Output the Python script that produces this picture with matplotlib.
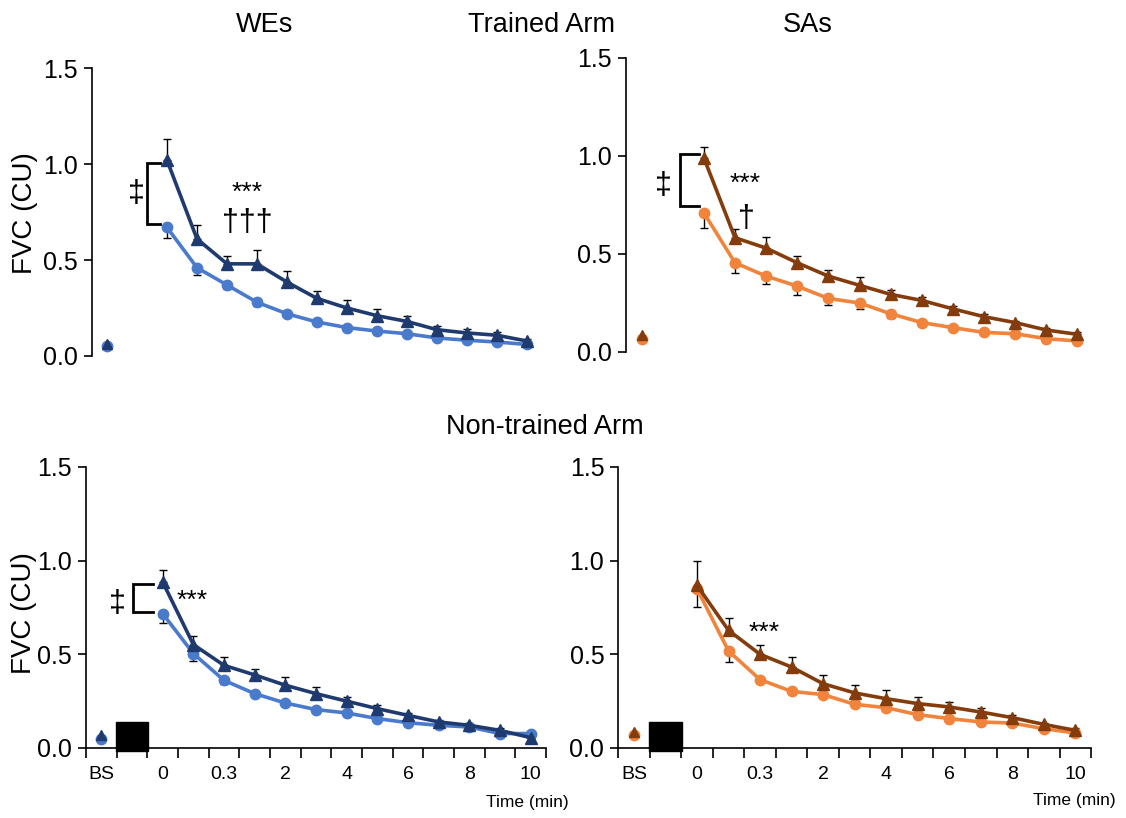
import numpy as np
import matplotlib.pyplot as plt
from matplotlib import font_manager
from matplotlib.patches import Rectangle

names = {f.name for f in font_manager.fontManager.ttflist}
narrow = 'Liberation Sans Narrow' if 'Liberation Sans Narrow' in names else 'Liberation Sans'
plt.rcParams['font.family'] = [narrow, 'DejaVu Sans']

# x categories: BS, (exercise box), then 13 recovery time points
tick_labels = ['BS', '0', '0.3', '2', '4', '6', '8', '10']
y_ticks = [0.0, 0.5, 1.0, 1.5]

# ---- WEs, trained arm ----
we_tr_tri_bs, we_tr_tri_bs_err = 0.065, 0.01
we_tr_tri = [1.02, 0.61, 0.48, 0.48, 0.385, 0.30, 0.25, 0.21, 0.18, 0.137, 0.12, 0.108, 0.078]
we_tr_tri_err = [0.11, 0.07, 0.04, 0.07, 0.06, 0.04, 0.04, 0.035, 0.03, 0.02, 0.02, 0.015, 0.01]
we_tr_cir_bs, we_tr_cir_bs_err = 0.05, 0.01
we_tr_cir = [0.67, 0.46, 0.37, 0.28, 0.22, 0.177, 0.148, 0.13, 0.116, 0.094, 0.082, 0.073, 0.06]
we_tr_cir_err = [0.055, 0.04, 0.02, 0.02, 0.015, 0.01, 0.01, 0.01, 0.01, 0.01, 0.01, 0.01, 0.01]

# ---- SAs, trained arm ----
sa_tr_tri_bs, sa_tr_tri_bs_err = 0.085, 0.01
sa_tr_tri = [0.99, 0.583, 0.53, 0.455, 0.387, 0.34, 0.294, 0.263, 0.22, 0.18, 0.15, 0.112, 0.09]
sa_tr_tri_err = [0.056, 0.047, 0.056, 0.035, 0.031, 0.042, 0.02, 0.02, 0.015, 0.015, 0.01, 0.01, 0.01]
sa_tr_cir_bs, sa_tr_cir_bs_err = 0.065, 0.01
sa_tr_cir = [0.71, 0.455, 0.387, 0.336, 0.273, 0.25, 0.195, 0.15, 0.124, 0.10, 0.093, 0.068, 0.056]
sa_tr_cir_err = [0.076, 0.051, 0.042, 0.046, 0.035, 0.033, 0.02, 0.015, 0.01, 0.01, 0.01, 0.01, 0.01]

# ---- WEs, non-trained arm ----
we_nt_tri_bs, we_nt_tri_bs_err = 0.068, 0.01
we_nt_tri = [0.886, 0.552, 0.441, 0.39, 0.335, 0.29, 0.25, 0.21, 0.174, 0.139, 0.121, 0.094, 0.055]
we_nt_tri_err = [0.062, 0.048, 0.045, 0.034, 0.044, 0.036, 0.02, 0.02, 0.015, 0.01, 0.01, 0.01, 0.01]
we_nt_cir_bs, we_nt_cir_bs_err = 0.05, 0.01
we_nt_cir = [0.717, 0.504, 0.361, 0.29, 0.24, 0.205, 0.187, 0.157, 0.135, 0.121, 0.112, 0.077, 0.077]
we_nt_cir_err = [0.05, 0.04, 0.02, 0.015, 0.01, 0.01, 0.01, 0.01, 0.01, 0.01, 0.01, 0.01, 0.01]

# ---- SAs, non-trained arm ----
sa_nt_tri_bs, sa_nt_tri_bs_err = 0.085, 0.01
sa_nt_tri = [0.868, 0.628, 0.50, 0.432, 0.343, 0.294, 0.263, 0.237, 0.219, 0.192, 0.162, 0.126, 0.094]
sa_nt_tri_err = [0.13, 0.068, 0.052, 0.054, 0.045, 0.04, 0.045, 0.035, 0.027, 0.02, 0.015, 0.01, 0.01]
sa_nt_cir_bs, sa_nt_cir_bs_err = 0.07, 0.01
sa_nt_cir = [0.85, 0.518, 0.365, 0.302, 0.285, 0.233, 0.215, 0.178, 0.157, 0.139, 0.133, 0.103, 0.08]
sa_nt_cir_err = [0.1, 0.058, 0.02, 0.015, 0.01, 0.01, 0.01, 0.01, 0.01, 0.01, 0.01, 0.01, 0.01]

NAVY, LBLUE = '#1f3a6e', '#4a7acb'
BROWN, ORANGE = '#843c0c', '#f0843c'

fig = plt.figure(figsize=(11.26, 8.18), dpi=100)

axes = {
    'tl': fig.add_axes([0.0817, 0.5648, 0.3996, 0.352]),
    'tr': fig.add_axes([0.556, 0.5697, 0.4147, 0.3594]),
    'bl': fig.add_axes([0.0764, 0.0856, 0.4085, 0.3435]),
    'br': fig.add_axes([0.549, 0.0856, 0.420, 0.3435]),
}

panels = {
    'tl': (we_tr_tri_bs, we_tr_tri_bs_err, we_tr_tri, we_tr_tri_err,
           we_tr_cir_bs, we_tr_cir_bs_err, we_tr_cir, we_tr_cir_err, NAVY, LBLUE),
    'tr': (sa_tr_tri_bs, sa_tr_tri_bs_err, sa_tr_tri, sa_tr_tri_err,
           sa_tr_cir_bs, sa_tr_cir_bs_err, sa_tr_cir, sa_tr_cir_err, BROWN, ORANGE),
    'bl': (we_nt_tri_bs, we_nt_tri_bs_err, we_nt_tri, we_nt_tri_err,
           we_nt_cir_bs, we_nt_cir_bs_err, we_nt_cir, we_nt_cir_err, NAVY, LBLUE),
    'br': (sa_nt_tri_bs, sa_nt_tri_bs_err, sa_nt_tri, sa_nt_tri_err,
           sa_nt_cir_bs, sa_nt_cir_bs_err, sa_nt_cir, sa_nt_cir_err, BROWN, ORANGE),
}

pos = np.arange(2, 15)

for key, ax in axes.items():
    tb, tbe, t, te, cb, cbe, c, ce, dark, light = panels[key]
    t, te, c, ce = map(np.asarray, (t, te, c, ce))
    z = np.zeros_like(t)
    # error bars: triangles upward, circles downward
    ax.errorbar(pos, c, yerr=[ce, z], fmt='none', ecolor='black', elinewidth=1,
                capsize=3, capthick=1, zorder=2)
    ax.errorbar(pos, t, yerr=[z, te], fmt='none', ecolor='black', elinewidth=1,
                capsize=3, capthick=1, zorder=2)
    ax.plot(pos, c, color=light, marker='o', ms=7.5, lw=2.6, zorder=3)
    ax.plot([0], [cb], color=light, marker='o', ms=7.5, zorder=3)
    ax.plot(pos, t, color=dark, marker='^', ms=8.5, lw=2.6, zorder=4)
    ax.plot([0], [tb], color=dark, marker='^', ms=7.5, zorder=4)

    ax.set_xlim(-0.5, 14.5)
    ax.set_ylim(0, 1.5)
    ax.set_yticks(y_ticks)
    ax.set_yticklabels([f'{v:.1f}' for v in y_ticks], fontsize=18)
    ax.tick_params(axis='y', direction='out', length=6, width=1.2, pad=4)
    for s in ('top', 'right'):
        ax.spines[s].set_visible(False)
    ax.spines['left'].set_linewidth(1.2)
    ax.spines['bottom'].set_linewidth(1.2)
    if key in ('tl', 'tr'):
        ax.spines['bottom'].set_visible(False)
        ax.set_xticks([])
    else:
        ax.set_xticks(np.arange(-0.5, 15, 1.0))
        ax.set_xticklabels([])
        ax.set_xticks(np.arange(0, 15, 2), minor=True)
        ax.set_xticklabels(tick_labels, minor=True, fontsize=14)
        ax.tick_params(axis='x', which='major', direction='out', length=7, width=1.2)
        ax.tick_params(axis='x', which='minor', length=0, pad=13)
        ax.add_patch(Rectangle((0.47, -0.015), 1.06, 0.155, color='black',
                               clip_on=False, zorder=5))


def bracket(ax, x0, x1, ytop, ybot):
    ax.plot([x1, x0, x0, x1], [ytop, ytop, ybot, ybot], color='black', lw=2,
            clip_on=False, zorder=5, solid_joinstyle='miter')


sym_font = ['Liberation Sans', 'DejaVu Sans']

ax = axes['tl']
bracket(ax, 1.32, 1.76, 1.005, 0.69)
ax.text(0.99, 0.845, '‡', fontsize=22, ha='center', va='center', family=sym_font)
ax.text(4.67, 0.85, '***', fontsize=19, ha='center', va='center')
ax.text(4.67, 0.695, '†††', fontsize=22, ha='center', va='center', family=sym_font)

ax = axes['tr']
bracket(ax, 1.22, 1.83, 1.012, 0.744)
ax.text(0.70, 0.846, '‡', fontsize=22, ha='center', va='center', family=sym_font)
ax.text(3.33, 0.858, '***', fontsize=19, ha='center', va='center')
ax.text(3.36, 0.68, '†', fontsize=22, ha='center', va='center', family=sym_font)

ax = axes['bl']
bracket(ax, 1.03, 1.70, 0.877, 0.726)
ax.text(0.51, 0.77, '‡', fontsize=22, ha='center', va='center', family=sym_font)
ax.text(2.95, 0.785, '***', fontsize=19, ha='center', va='center')

ax = axes['br']
ax.text(4.12, 0.615, '***', fontsize=19, ha='center', va='center')

# titles and labels
fig.text(265 / 1126, 1 - 25 / 818, 'WEs', fontsize=19.5, ha='center', va='center')
fig.text(541 / 1126, 1 - 25 / 818, 'Trained Arm', fontsize=19.5, ha='center', va='center')
fig.text(808 / 1126, 1 - 25 / 818, 'SAs', fontsize=19.5, ha='center', va='center')
fig.text(545 / 1126, 1 - 427 / 818, 'Non-trained Arm', fontsize=19.5, ha='center', va='center')
fig.text(25 / 1126, 1 - 213 / 818, 'FVC (CU)', fontsize=20, rotation=90, ha='center', va='center')
fig.text(24 / 1126, 1 - 613 / 818, 'FVC (CU)', fontsize=20, rotation=90, ha='center', va='center')
fig.text(527 / 1126, 1 - 803 / 818, 'Time (min)', fontsize=12.5, ha='center', va='center')
fig.text(1074 / 1126, 1 - 800 / 818, 'Time (min)', fontsize=12.5, ha='center', va='center')

fig.savefig('out.png', dpi=100)
